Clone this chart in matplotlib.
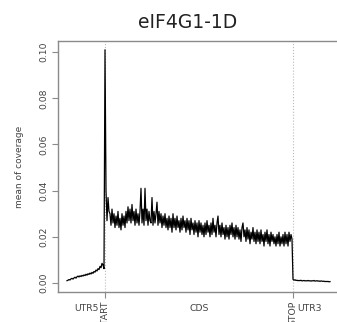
import numpy as np
import matplotlib
matplotlib.use("Agg")
import matplotlib.pyplot as plt
from matplotlib.transforms import blended_transform_factory

# mean coverage per bin
utr5 = [0.0010, 0.0012, 0.0015, 0.0013, 0.0018, 0.0020, 0.0017, 0.0022, 0.0025, 0.0021,
        0.0027, 0.0030, 0.0026, 0.0031, 0.0028, 0.0033, 0.0030, 0.0035, 0.0032, 0.0038,
        0.0034, 0.0040, 0.0037, 0.0043, 0.0039, 0.0046, 0.0042, 0.0050, 0.0047, 0.0056,
        0.0052, 0.0062, 0.0058, 0.0072, 0.0066, 0.0085, 0.0078, 0.0062]
start_peak = [0.101]
cds = [0.040, 0.027, 0.037, 0.031, 0.030, 0.025, 0.032, 0.026, 0.030, 0.024,
       0.029, 0.025, 0.031, 0.024, 0.028, 0.023, 0.030, 0.025, 0.029, 0.024,
       0.031, 0.026, 0.033, 0.027, 0.032, 0.026, 0.034, 0.027, 0.031, 0.025,
       0.032, 0.026, 0.030, 0.025, 0.031, 0.041, 0.026, 0.032, 0.025, 0.041,
       0.027, 0.032, 0.025, 0.031, 0.027, 0.026, 0.037, 0.025, 0.031, 0.026,
       0.030, 0.035, 0.025, 0.031, 0.026, 0.030, 0.024, 0.029, 0.025, 0.030,
       0.024, 0.028, 0.023, 0.029, 0.024, 0.028, 0.022, 0.030, 0.024, 0.028,
       0.023, 0.029, 0.024, 0.027, 0.022, 0.028, 0.023, 0.029, 0.024, 0.027,
       0.022, 0.028, 0.023, 0.027, 0.021, 0.028, 0.023, 0.026, 0.021, 0.027,
       0.022, 0.026, 0.020, 0.027, 0.022, 0.026, 0.021, 0.025, 0.020, 0.026,
       0.021, 0.027, 0.022, 0.025, 0.020, 0.026, 0.021, 0.028, 0.022, 0.025,
       0.020, 0.026, 0.029, 0.021, 0.025, 0.020, 0.026, 0.021, 0.024, 0.019,
       0.025, 0.020, 0.024, 0.019, 0.025, 0.021, 0.026, 0.020, 0.024, 0.019,
       0.025, 0.020, 0.024, 0.019, 0.023, 0.018, 0.024, 0.026, 0.020, 0.023,
       0.018, 0.024, 0.019, 0.023, 0.017, 0.022, 0.019, 0.024, 0.018, 0.022,
       0.017, 0.023, 0.018, 0.022, 0.017, 0.023, 0.018, 0.021, 0.016, 0.022,
       0.018, 0.023, 0.017, 0.021, 0.016, 0.022, 0.018, 0.021, 0.017, 0.020,
       0.016, 0.021, 0.017, 0.022, 0.016, 0.020, 0.017, 0.021, 0.016, 0.022,
       0.017, 0.021, 0.016, 0.022, 0.018, 0.021, 0.019]
utr3 = [0.0016, 0.0012, 0.0014, 0.0011, 0.0012, 0.0010, 0.0011, 0.0010, 0.0012, 0.0009,
        0.0010, 0.0011, 0.0009, 0.0010, 0.0009, 0.0011, 0.0009, 0.0010, 0.0008, 0.0010,
        0.0009, 0.0011, 0.0008, 0.0009, 0.0010, 0.0008, 0.0009, 0.0007, 0.0009, 0.0008,
        0.0007, 0.0008, 0.0006, 0.0007, 0.0006, 0.0007, 0.0005, 0.0006]

region_labels = ["UTR5", "CDS", "UTR3"]
site_labels = ["START", "STOP"]
yticks = [0.00, 0.02, 0.04, 0.06, 0.08, 0.10]
title = "eIF4G1-1D"

coverage = np.array(utr5 + start_peak + cds + utr3)
x = np.arange(len(coverage))
start_idx = len(utr5)
stop_idx = len(utr5) + len(start_peak) + len(cds)

fig = plt.figure(figsize=(3.37, 3.22), dpi=100)
ax = fig.add_axes([58 / 337, 30 / 322, 287 / 337, 251 / 322])

axcol = "#8a8a8a"
txtcol = "#444444"

for xv in (start_idx, stop_idx):
    ax.axvline(xv, color="#bbbbbb", lw=0.8, ls=":", zorder=1)
ax.plot(x, coverage, color="black", lw=0.9, zorder=3)

ax.set_xlim(-9, 278)
ax.set_ylim(-0.0039, 0.1048)

for s in ("left", "bottom", "top"):
    ax.spines[s].set_color(axcol)
    ax.spines[s].set_linewidth(1.0)
ax.spines["right"].set_visible(False)

ax.set_yticks(yticks)
ax.set_yticklabels(["%.2f" % v for v in yticks], rotation=90, va="center",
                   fontsize=6.7, color=txtcol)
ax.tick_params(axis="y", length=4, width=0.8, color=axcol, pad=3)

ax.set_xticks([start_idx, stop_idx])
ax.set_xticklabels(site_labels, rotation=90, va="top", ha="center",
                   fontsize=6.7, color=txtcol)
ax.tick_params(axis="x", length=4, width=0.8, color=axcol, pad=2)

# region names sit between the ticks, without tick marks
centers = [(len(utr5) - 1) / 2 + 1,
           (start_idx + stop_idx) / 2,
           stop_idx + len(utr3) / 2 - 3]
trans = blended_transform_factory(ax.transData, ax.transAxes)
for c, lab in zip(centers, region_labels):
    ax.text(c, -0.065, lab, transform=trans, ha="center", va="center",
            fontsize=6.7, color=txtcol)

fig.text(20 / 337, 1 - 167 / 322, "mean of coverage", rotation=90,
         ha="center", va="center", fontsize=6.5, color=txtcol)
fig.text(188 / 337, 1 - 22 / 322, title, ha="center", va="center",
         fontsize=13.5, color="#222222")

fig.savefig("out.png", dpi=100)
